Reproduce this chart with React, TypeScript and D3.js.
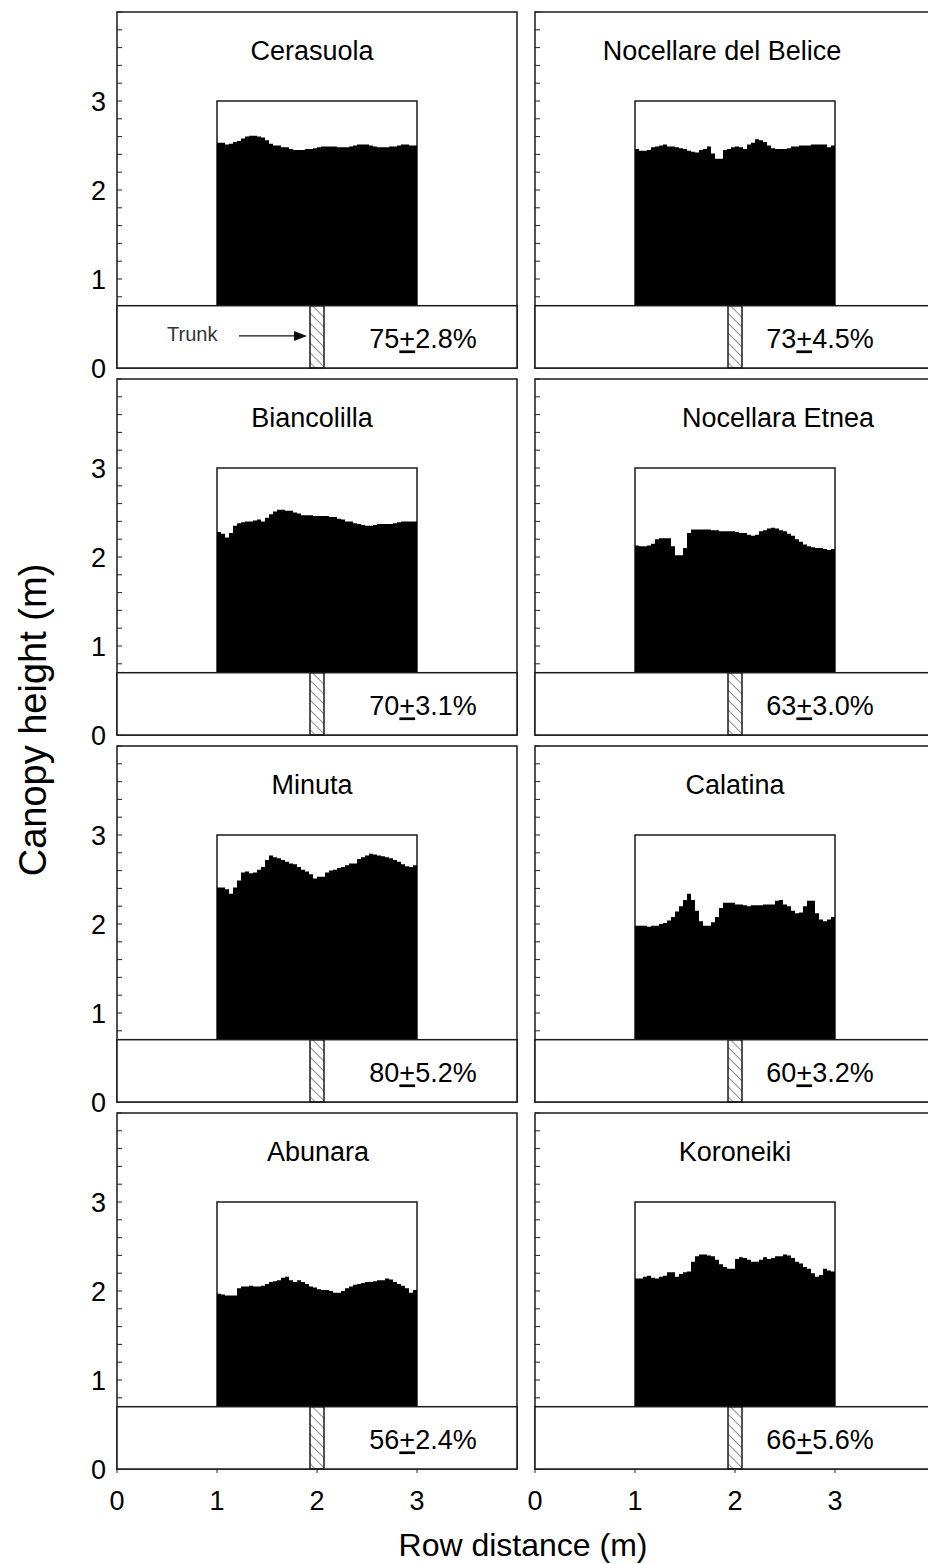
import React from 'react';
import * as d3 from 'd3';

// cultivar order: left/right column, top to bottom
const cultivars = ['Cerasuola', 'Nocellare del Belice', 'Biancolilla', 'Nocellara Etnea', 'Minuta', 'Calatina', 'Abunara', 'Koroneiki'];
const lightMean = ['75', '73', '70', '63', '80', '60', '56', '66'];
const lightSe = ['2.8', '4.5', '3.1', '3.0', '5.2', '3.2', '2.4', '5.6'];

// canopy height (m), one value every 0.04 m from 1 to 3 m
const cerasuola = [2.53, 2.53, 2.51, 2.52, 2.54, 2.55, 2.58, 2.6, 2.61, 2.61, 2.6, 2.59, 2.56, 2.52, 2.5, 2.5, 2.48, 2.48, 2.46, 2.45, 2.45, 2.45, 2.46, 2.46, 2.47, 2.48, 2.49, 2.49, 2.49, 2.49, 2.48, 2.48, 2.48, 2.49, 2.5, 2.51, 2.51, 2.51, 2.5, 2.49, 2.48, 2.48, 2.48, 2.49, 2.49, 2.5, 2.51, 2.51, 2.5, 2.5];
const nocellareBelice = [2.46, 2.44, 2.44, 2.45, 2.48, 2.49, 2.5, 2.51, 2.49, 2.49, 2.48, 2.47, 2.46, 2.44, 2.43, 2.42, 2.45, 2.46, 2.49, 2.41, 2.35, 2.35, 2.45, 2.46, 2.48, 2.49, 2.48, 2.46, 2.51, 2.53, 2.57, 2.56, 2.54, 2.5, 2.47, 2.46, 2.46, 2.46, 2.47, 2.49, 2.49, 2.5, 2.5, 2.5, 2.51, 2.51, 2.51, 2.51, 2.48, 2.5];
const biancolilla = [2.28, 2.26, 2.22, 2.27, 2.35, 2.38, 2.39, 2.4, 2.4, 2.41, 2.42, 2.4, 2.44, 2.48, 2.51, 2.53, 2.53, 2.52, 2.52, 2.5, 2.49, 2.47, 2.47, 2.47, 2.46, 2.46, 2.46, 2.46, 2.45, 2.45, 2.43, 2.42, 2.4, 2.4, 2.38, 2.37, 2.36, 2.35, 2.35, 2.36, 2.37, 2.37, 2.37, 2.37, 2.38, 2.39, 2.4, 2.4, 2.4, 2.4];
const nocellaraEtnea = [2.13, 2.12, 2.12, 2.13, 2.15, 2.2, 2.21, 2.21, 2.21, 2.12, 2.02, 2.02, 2.1, 2.27, 2.31, 2.31, 2.31, 2.31, 2.31, 2.3, 2.3, 2.29, 2.29, 2.29, 2.29, 2.28, 2.27, 2.27, 2.25, 2.24, 2.25, 2.29, 2.3, 2.32, 2.33, 2.32, 2.3, 2.29, 2.26, 2.24, 2.2, 2.17, 2.14, 2.12, 2.11, 2.1, 2.1, 2.09, 2.08, 2.09];
const minuta = [2.41, 2.41, 2.39, 2.34, 2.41, 2.49, 2.58, 2.59, 2.57, 2.58, 2.61, 2.64, 2.72, 2.77, 2.75, 2.74, 2.72, 2.7, 2.68, 2.67, 2.64, 2.61, 2.59, 2.56, 2.51, 2.53, 2.53, 2.58, 2.6, 2.61, 2.63, 2.64, 2.66, 2.68, 2.68, 2.73, 2.75, 2.77, 2.79, 2.78, 2.77, 2.76, 2.75, 2.74, 2.72, 2.7, 2.67, 2.65, 2.64, 2.66];
const calatina = [1.98, 1.98, 1.98, 1.97, 1.98, 1.98, 2.0, 2.01, 2.04, 2.08, 2.14, 2.2, 2.27, 2.34, 2.27, 2.15, 2.03, 1.98, 1.98, 2.02, 2.08, 2.18, 2.24, 2.24, 2.24, 2.22, 2.22, 2.21, 2.2, 2.21, 2.21, 2.21, 2.22, 2.22, 2.22, 2.26, 2.27, 2.22, 2.2, 2.15, 2.12, 2.13, 2.2, 2.26, 2.26, 2.12, 2.05, 2.03, 2.05, 2.08];
const abunara = [1.97, 1.96, 1.95, 1.95, 1.95, 2.03, 2.05, 2.05, 2.06, 2.05, 2.05, 2.06, 2.08, 2.1, 2.11, 2.12, 2.15, 2.16, 2.12, 2.1, 2.12, 2.1, 2.08, 2.05, 2.04, 2.02, 2.01, 2.01, 2.0, 1.98, 1.98, 2.0, 2.03, 2.05, 2.07, 2.08, 2.09, 2.1, 2.1, 2.11, 2.12, 2.12, 2.14, 2.13, 2.1, 2.08, 2.06, 2.03, 1.98, 2.01];
const koroneiki = [2.14, 2.14, 2.16, 2.17, 2.15, 2.14, 2.16, 2.17, 2.21, 2.21, 2.16, 2.19, 2.21, 2.22, 2.33, 2.39, 2.41, 2.41, 2.4, 2.39, 2.35, 2.3, 2.27, 2.25, 2.25, 2.36, 2.38, 2.37, 2.35, 2.33, 2.33, 2.35, 2.38, 2.36, 2.37, 2.39, 2.39, 2.41, 2.4, 2.37, 2.33, 2.31, 2.27, 2.25, 2.2, 2.16, 2.18, 2.25, 2.23, 2.22];

const profiles = [cerasuola, nocellareBelice, biancolilla, nocellaraEtnea, minuta, calatina, abunara, koroneiki];

const xTicks = [0, 1, 2, 3];
const yTicks = [0, 1, 2, 3];
const yMinor = d3.range(0, 4.01, 0.2);

const rowStart = 1; // canopy from 1 to 3 m
const rowEnd = 3;
const step = 0.04;
const groundTop = 0.7;
const boxTop = 3;
const trunk = [1.93, 2.07];
// where the cultivar name sits (row distance, m)
const titleX = [1.95, 1.87, 1.95, 2.43, 1.95, 2.0, 2.01, 2.0];

const W = 928;
const H = 1564;
const colX = [117, 535];
const pw = 400;
const ph = 356;
const rowY = [12, 379, 746, 1113];
const font = "'Liberation Sans', Arial, sans-serif";

function Panel({ idx }: { idx: number }) {
  const col = idx % 2;
  const row = Math.floor(idx / 2);
  const x = d3.scaleLinear().domain([0, 4]).range([0, pw]);
  const y = d3.scaleLinear().domain([0, 4]).range([ph, 0]);
  const vals = profiles[idx];
  const pts = [...vals, vals[vals.length - 1]];
  const area = d3
    .area<number>()
    .x((d, i) => x(rowStart + i * step))
    .y0(y(groundTop))
    .y1((d) => y(d))
    .curve(d3.curveStepAfter);
  const isBottom = row === 3;
  return (
    <g transform={`translate(${colX[col]},${rowY[row]})`}>
      <rect x={0} y={0} width={pw} height={ph} fill="white" stroke="#1a1a1a" strokeWidth={1.5} />
      {yMinor.map((t) => (
        <line key={t} x1={0} x2={5} y1={y(t)} y2={y(t)} stroke="#222" strokeWidth={1} />
      ))}
      {col === 0 &&
        yTicks.map((t) => (
          <text key={t} x={-11} y={y(t)} dy="0.36em" textAnchor="end" fontSize={27} fontFamily={font}>
            {t}
          </text>
        ))}
      <text x={x(titleX[idx])} y={y(3.46)} textAnchor="middle" fontSize={27} fontFamily={font}>
        {cultivars[idx]}
      </text>
      <rect
        x={x(rowStart)}
        y={y(boxTop)}
        width={x(rowEnd) - x(rowStart)}
        height={y(groundTop) - y(boxTop)}
        fill="white"
        stroke="#1a1a1a"
        strokeWidth={1.5}
      />
      <path d={area(pts) || ''} fill="black" />
      <rect
        x={0}
        y={y(groundTop)}
        width={pw}
        height={y(0) - y(groundTop)}
        fill="white"
        stroke="#1a1a1a"
        strokeWidth={1.5}
      />
      <rect
        x={x(trunk[0])}
        y={y(groundTop)}
        width={x(trunk[1]) - x(trunk[0])}
        height={y(0) - y(groundTop)}
        fill="url(#hatch)"
        stroke="#1a1a1a"
        strokeWidth={1.5}
      />
      <text x={x(col === 0 ? 3.06 : 2.85)} y={y(0.22)} textAnchor="middle" fontSize={27} fontFamily={font}>
        <tspan>{lightMean[idx]}</tspan>
        <tspan style={{ textDecoration: 'underline' }}>+</tspan>
        <tspan>{lightSe[idx]}%</tspan>
      </text>
      {idx === 0 && (
        <g>
          <text x={x(0.5)} y={y(0.3)} fontSize={20} fontFamily={font} fill="#333">
            Trunk
          </text>
          <line x1={x(1.22)} x2={x(1.78)} y1={y(0.36)} y2={y(0.36)} stroke="#111" strokeWidth={1.3} />
          <path
            d={`M${x(1.9)},${y(0.36)} L${x(1.77)},${y(0.36) - 5} L${x(1.77)},${y(0.36) + 5} Z`}
            fill="#111"
          />
        </g>
      )}
      {isBottom &&
        xTicks.map((t) => (
          <g key={t}>
            <line x1={x(t)} x2={x(t)} y1={ph} y2={ph + 4} stroke="#222" />
            <text x={x(t)} y={ph + 41} textAnchor="middle" fontSize={27} fontFamily={font}>
              {t}
            </text>
          </g>
        ))}
    </g>
  );
}

export default function App() {
  return (
    <svg
      width={W}
      height={H}
      style={{ position: 'absolute', left: 0, top: 0, background: 'white' }}
    >
      <defs>
        <pattern id="hatch" width={7} height={7} patternUnits="userSpaceOnUse" patternTransform="rotate(-45)">
          <line x1={0} y1={0} x2={0} y2={7} stroke="#222" strokeWidth={1} />
        </pattern>
      </defs>
      <rect width={W} height={H} fill="white" />
      {cultivars.map((c, i) => (
        <Panel key={c} idx={i} />
      ))}
      <text x={46} y={720} transform="rotate(-90,46,720)" textAnchor="middle" fontSize={38} fontFamily={font}>
        Canopy height (m)
      </text>
      <text x={523} y={1556} textAnchor="middle" fontSize={32} fontFamily={font}>
        Row distance (m)
      </text>
    </svg>
  );
}
